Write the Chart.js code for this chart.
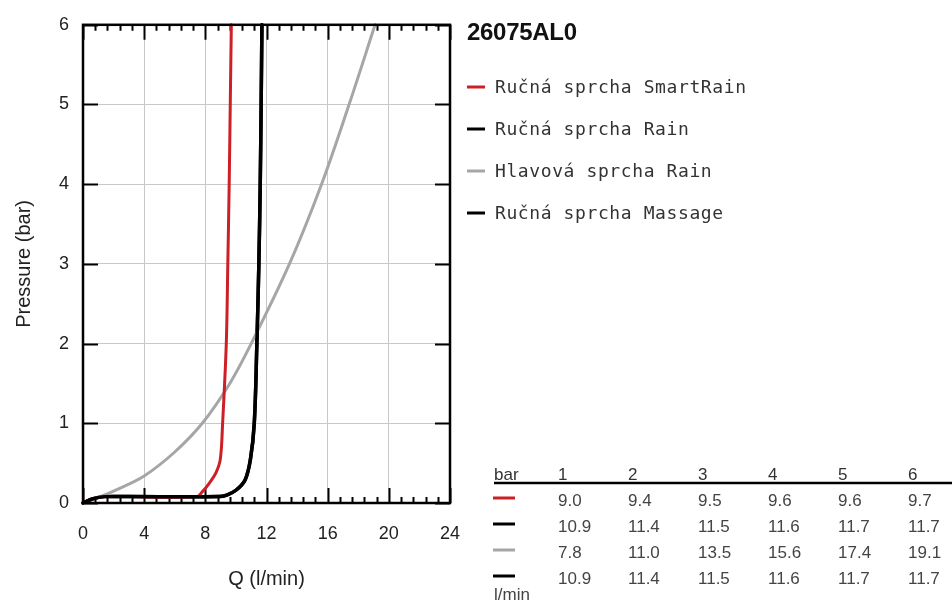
<!DOCTYPE html>
<html><head><meta charset="utf-8">
<script src="https://cdn.jsdelivr.net/npm/chart.js@4/dist/chart.umd.min.js"></script>
<style>html,body{margin:0;padding:0;background:#fff;overflow:hidden;} canvas{display:block;}</style>
</head><body>
<canvas id="c" width="952" height="614" style="width:952px;height:614px"></canvas>
<script>
// ---- data ----
const chartTitle = '26075AL0';
const seriesNames = ['Ručná sprcha SmartRain', 'Ručná sprcha Rain', 'Hlavová sprcha Rain', 'Ručná sprcha Massage'];
const seriesColors = ['#cc1f26', '#000000', '#a6a6a6', '#000000'];
const seriesOrder = [1, 0, 2, 3];

const qSmartRain = [0, 0.6, 1.4, 3, 7.45, 7.8, 8.3, 8.7, 8.98, 9.13, 9.37, 9.47, 9.56, 9.63, 9.7];
const pSmartRain = [0, 0.05, 0.08, 0.08, 0.08, 0.14, 0.26, 0.38, 0.55, 1.0, 2.0, 3.0, 4.0, 5.0, 6.0];

const qRain = [0, 0.6, 1.4, 3, 8.9, 9.4, 10.0, 10.6, 10.95, 11.2, 11.37, 11.5, 11.59, 11.65, 11.7];
const pRain = [0, 0.05, 0.08, 0.08, 0.08, 0.1, 0.16, 0.29, 0.55, 1.0, 2.0, 3.0, 4.0, 5.0, 6.0];

const qHead = [0, 1, 2, 4, 6, 7.8, 9.6, 11.0, 13.5, 15.6, 17.4, 19.1];
const pHead = [0, 0.07, 0.15, 0.34, 0.64, 1.0, 1.5, 2.0, 3.0, 4.0, 5.0, 6.0];

const qMassage = [0, 0.6, 1.4, 3, 8.9, 9.4, 10.0, 10.6, 10.95, 11.2, 11.37, 11.5, 11.59, 11.65, 11.7];
const pMassage = [0, 0.05, 0.08, 0.08, 0.08, 0.1, 0.16, 0.29, 0.55, 1.0, 2.0, 3.0, 4.0, 5.0, 6.0];

const xTicks = [0, 4, 8, 12, 16, 20, 24];
const yTicks = [0, 1, 2, 3, 4, 5, 6];

const tableBar = [1, 2, 3, 4, 5, 6];
const tableSmartRain = [9.0, 9.4, 9.5, 9.6, 9.6, 9.7];
const tableRain = [10.9, 11.4, 11.5, 11.6, 11.7, 11.7];
const tableHead = [7.8, 11.0, 13.5, 15.6, 17.4, 19.1];
const tableMassage = [10.9, 11.4, 11.5, 11.6, 11.7, 11.7];
const tableRows = [tableSmartRain, tableRain, tableHead, tableMassage];

// ---- helpers ----
const pts = (q, p) => q.map((v, i) => ({x: v, y: p[i]}));
const qs = [qSmartRain, qRain, qHead, qMassage];
const ps = [pSmartRain, pRain, pHead, pMassage];
const widths = [3, 3.5, 3, 3.5];

const datasets = seriesNames.map((n, i) => ({
  label: n,
  data: pts(qs[i], ps[i]),
  borderColor: seriesColors[i],
  backgroundColor: seriesColors[i],
  borderWidth: widths[i],
  order: seriesOrder[i],
  pointRadius: 0,
  fill: false,
  tension: 0.35,
  borderCapStyle: 'round',
  borderJoinStyle: 'round',
  clip: 2
}));

const frame = {
  id: 'frame',
  beforeDatasetsDraw(chart) {
    const {ctx, chartArea: a, scales: {x, y}} = chart;
    ctx.save();
    ctx.strokeStyle = '#000';
    ctx.lineWidth = 2;
    ctx.lineCap = 'butt';
    ctx.beginPath();
    for (let i = 0; i <= 30; i++) {
      const v = i * 0.8;
      const px = Math.round(x.getPixelForValue(v)) + 0.5;
      const major = xTicks.some(t => Math.abs(t - v) < 1e-6);
      const len = major ? 15 : 6;
      ctx.moveTo(px, a.top); ctx.lineTo(px, a.top + len);
      ctx.moveTo(px, a.bottom); ctx.lineTo(px, a.bottom - len);
    }
    yTicks.forEach(t => {
      const py = Math.round(y.getPixelForValue(t)) + 0.5;
      ctx.moveTo(a.left, py); ctx.lineTo(a.left + 15, py);
      ctx.moveTo(a.right, py); ctx.lineTo(a.right - 15, py);
    });
    ctx.stroke();
    ctx.restore();
  },
  afterDatasetsDraw(chart) {
    const {ctx, chartArea: a} = chart;
    ctx.save();
    ctx.strokeStyle = '#000';
    ctx.lineWidth = 2.5;
    ctx.strokeRect(a.left, a.top, a.right - a.left, a.bottom - a.top);
    ctx.restore();
  },
  afterDraw(chart) {
    const {ctx} = chart;
    const ds = chart.data.datasets;
    ctx.save();
    // title
    ctx.fillStyle = '#111';
    ctx.font = 'bold 24px "Liberation Sans", Arial, sans-serif';
    ctx.textBaseline = 'middle';
    ctx.textAlign = 'left';
    if ('letterSpacing' in ctx) ctx.letterSpacing = '-0.3px';
    ctx.fillText(chartTitle, 467, 33);
    if ('letterSpacing' in ctx) ctx.letterSpacing = '0.6px';
    // legend
    ctx.font = '18px "DejaVu Sans Mono", monospace';
    ds.forEach((d, i) => {
      const yy = 87 + i * 42;
      ctx.strokeStyle = d.borderColor;
      ctx.lineWidth = 3;
      ctx.beginPath(); ctx.moveTo(467, yy); ctx.lineTo(485, yy); ctx.stroke();
      ctx.fillStyle = '#333';
      ctx.fillText(d.label, 495, yy + 1);
    });
    if ('letterSpacing' in ctx) ctx.letterSpacing = '0px';
    // table
    ctx.font = '17px "Liberation Sans", Arial, sans-serif';
    ctx.textBaseline = 'alphabetic';
    ctx.fillStyle = '#333';
    ctx.fillText('bar', 494, 480);
    const colX = i => 558 + i * 70;
    tableBar.forEach((b, i) => ctx.fillText(String(b), colX(i), 480));
    ctx.strokeStyle = '#000';
    ctx.lineWidth = 2.7;
    ctx.beginPath(); ctx.moveTo(494, 483); ctx.lineTo(952, 483); ctx.stroke();
    tableRows.forEach((row, r) => {
      const cy = 500 + r * 26;
      ctx.strokeStyle = ds[r].borderColor;
      ctx.lineWidth = 3;
      ctx.beginPath(); ctx.moveTo(493, cy - 2); ctx.lineTo(515, cy - 2); ctx.stroke();
      ctx.fillStyle = '#444';
      row.forEach((v, i) => ctx.fillText(v.toFixed(1), colX(i), cy + 6));
    });
    ctx.fillStyle = '#444';
    ctx.fillText('l/min', 494, 600);
    ctx.restore();
  }
};

new Chart(document.getElementById('c'), {
  type: 'line',
  data: {datasets},
  options: {
    responsive: false,
    devicePixelRatio: 1,
    animation: false,
    layout: {padding: {left: 0, top: 23, right: 502, bottom: 0}},
    plugins: {legend: {display: false}, tooltip: {enabled: false}},
    scales: {
      x: {
        type: 'linear', min: 0, max: 24,
        afterBuildTicks: s => { s.ticks = xTicks.map(v => ({value: v})); },
        afterFit: s => { s.height = 111; },
        ticks: {font: {size: 18, family: '"Liberation Sans", Arial, sans-serif'}, color: '#222', padding: 20, maxRotation: 0},
        grid: {color: '#c8c8c8', lineWidth: 1, drawTicks: false},
        border: {display: false},
        title: {display: true, text: 'Q (l/min)', color: '#222', font: {size: 20, family: '"Liberation Sans", Arial, sans-serif'}, padding: {top: 0, bottom: 23}}
      },
      y: {
        type: 'linear', min: 0, max: 6,
        afterBuildTicks: s => { s.ticks = yTicks.map(v => ({value: v})); },
        afterFit: s => { s.width = 83; },
        ticks: {font: {size: 18, family: '"Liberation Sans", Arial, sans-serif'}, color: '#222', padding: 14},
        grid: {color: '#c8c8c8', lineWidth: 1, drawTicks: false},
        border: {display: false},
        title: {display: true, text: 'Pressure (bar)', color: '#222', font: {size: 20, family: '"Liberation Sans", Arial, sans-serif'}, padding: {top: 12, bottom: 0}}
      }
    }
  },
  plugins: [frame]
});
</script>
</body></html>
